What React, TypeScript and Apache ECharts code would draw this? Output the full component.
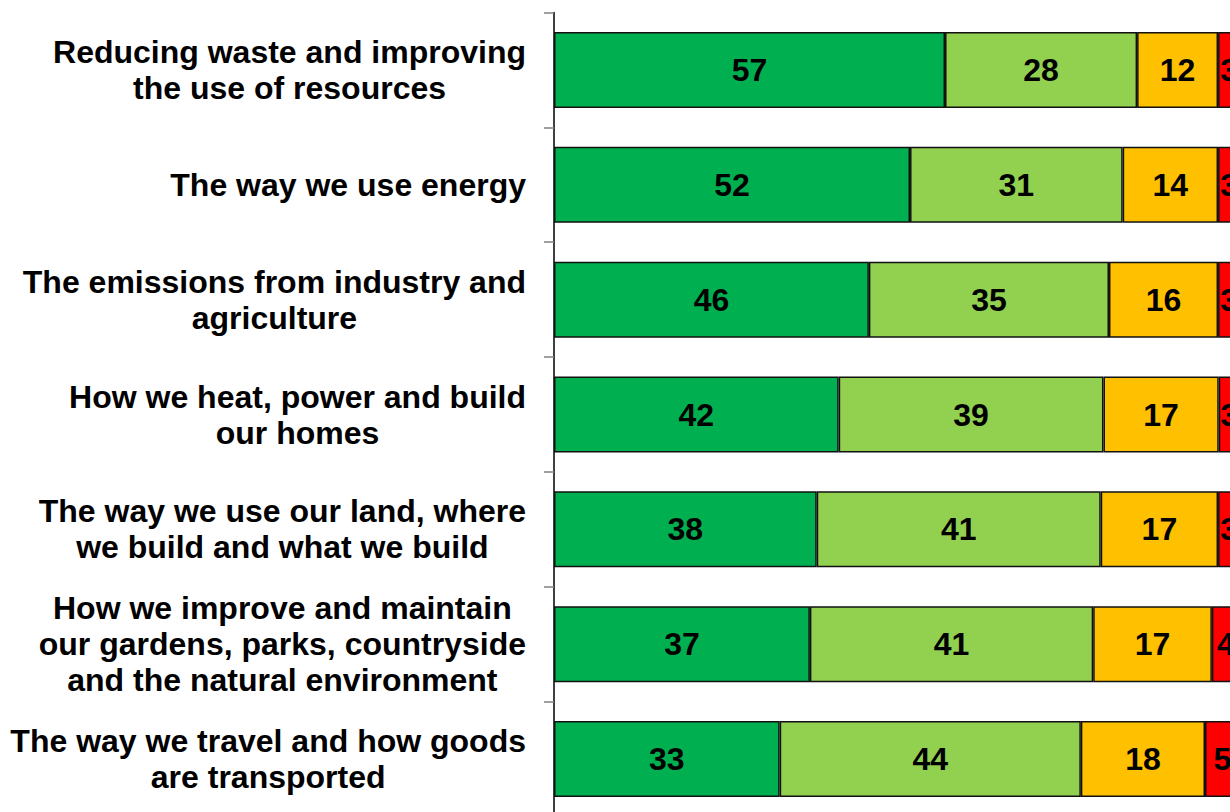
import React, { useEffect, useRef } from "react";
import * as echarts from "echarts";

const categories = [
  "Reducing waste and improving\nthe use of resources",
  "The way we use energy",
  "The emissions from industry and\nagriculture",
  "How we heat, power and build\nour homes",
  "The way we use our land, where\nwe build and what we build",
  "How we improve and maintain\nour gardens, parks, countryside\nand the natural environment",
  "The way we travel and how goods\nare transported",
];
// Shares (%); labels show rounded values
const darkGreen = [57.0, 51.9, 45.9, 41.5, 38.3, 37.3, 32.9];
const lightGreen = [28.0, 31.0, 35.0, 38.6, 41.4, 41.3, 43.9];
const amber = [11.8, 13.9, 15.9, 16.8, 17.1, 17.3, 18.1];
const red = [3.2, 3.2, 3.2, 3.1, 3.2, 4.1, 5.1];

const seriesDefs = [
  { name: "s1", data: darkGreen, color: "#00B050" },
  { name: "s2", data: lightGreen, color: "#92D050" },
  { name: "s3", data: amber, color: "#FFC000" },
  { name: "s4", data: red, color: "#FF0000" },
];

const FONT = "'Liberation Sans', Arial, sans-serif";

export default function App() {
  const ref = useRef<HTMLDivElement>(null);
  useEffect(() => {
    if (!ref.current) return;
    const chart = echarts.init(ref.current, null, { renderer: "svg" });
    chart.setOption({
      animation: false,
      backgroundColor: "#ffffff",
      grid: { left: 554, right: 60, top: 12.5, bottom: 13.5, containLabel: false },
      xAxis: {
        type: "value",
        min: 0,
        max: 100,
        show: false,
        splitLine: { show: false },
      },
      yAxis: {
        type: "category",
        inverse: true,
        data: categories,
        axisLine: { show: true, lineStyle: { color: "#000", width: 1.5 } },
        axisTick: { show: true, length: 10, lineStyle: { color: "#808080", width: 1.5 } },
        axisLabel: {
          margin: 28,
          align: "right",
          formatter: (v: string) =>
            v
              .split("\n")
              .map((l) => "{c|" + l + "}")
              .join("\n"),
          rich: {
            c: {
              align: "center",
              fontSize: 32,
              lineHeight: 36,
              fontWeight: "bold",
              fontFamily: FONT,
              color: "#000",
            },
          },
        },
      },
      series: seriesDefs.map((s) => ({
        name: s.name,
        type: "bar",
        stack: "total",
        barWidth: 76,
        data: s.data,
        itemStyle: { color: s.color, borderColor: "#111", borderWidth: 1.5 },
        label: {
          show: true,
          position: "inside",
          fontSize: 32,
          fontWeight: "bold",
          fontFamily: FONT,
          color: "#000",
          formatter: (p: any) => String(Math.round(p.value)),
        },
      })),
    });
    return () => chart.dispose();
  }, []);
  return (
    <div
      style={{
        position: "fixed",
        left: 0,
        top: 0,
        width: 1230,
        height: 812,
        overflow: "hidden",
        background: "#fff",
      }}
    >
      <div ref={ref} style={{ width: 1300, height: 830 }} />
    </div>
  );
}
